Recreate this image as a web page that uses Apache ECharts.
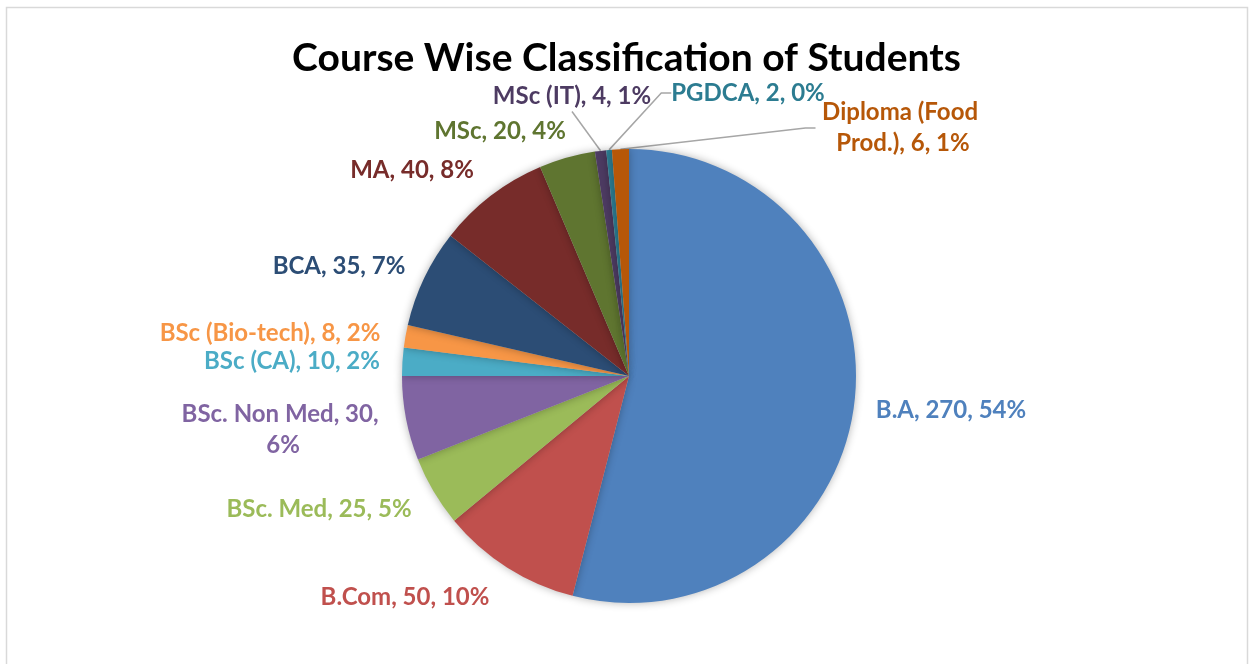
<!DOCTYPE html>
<html>
<head>
<meta charset="utf-8">
<script src="https://cdn.jsdelivr.net/npm/echarts@6/dist/echarts.min.js"></script>
<style>
  html, body { margin: 0; padding: 0; background: #fff; }
  #main { width: 1253px; height: 664px; }
</style>
</head>
<body>
<div id="main"></div>
<script>
// 数据
const categories = ['B.A', 'B.Com', 'BSc. Med', 'BSc. Non Med', 'BSc (CA)', 'BSc (Bio-tech)',
  'BCA', 'MA', 'MSc', 'MSc (IT)', 'PGDCA', 'Diploma (Food Prod.)']
const students = [270, 50, 25, 30, 10, 8, 35, 40, 20, 4, 2, 6]

// 颜色
const colors = ['#4F81BD', '#C0504D', '#9BBB59', '#8064A2', '#4BACC6', '#F79646',
  '#2C4D75', '#772C2A', '#5F7530', '#4D3B62', '#2C7C91', '#B65708']

// 标签位置 (中心点)
const labelPos = [
  [951, 410], [405, 597], [319, 509], [283, 430], [292, 361], [270, 333],
  [339, 266], [412, 170], [500, 131], [572, 96], [748, 93], [903, 128]
]
const withLine = [9, 10, 11]
const wrapWidth = { 3: 215, 11: 175 }

const myChart = echarts.init(document.getElementById('main'))

const option = {
  title: {
    text: 'Course Wise Classification of Students',
    left: 'center',
    top: 34,
    textStyle: { fontFamily: 'Lato', fontWeight: 'bold', fontSize: 39, color: '#000' }
  },
  graphic: [{
    type: 'rect',
    shape: { x: 6.5, y: 7.5, width: 1241, height: 700 },
    style: { fill: 'none', stroke: '#d9d9d9', lineWidth: 1.5 },
    silent: true
  }],
  series: [{
    type: 'pie',
    center: [629, 376],
    radius: 227,
    startAngle: 90,
    clockwise: true,
    color: colors,
    itemStyle: {
      shadowBlur: 8,
      shadowColor: 'rgba(0,0,0,0.3)'
    },
    label: {
      show: true,
      color: 'inherit',
      fontFamily: 'Lato',
      fontWeight: 'bold',
      fontSize: 24,
      lineHeight: 31,
      align: 'center',
      formatter: p => p.name + ', ' + p.value + ', ' + Math.round(p.percent) + '%'
    },
    labelLine: {
      lineStyle: { color: '#a6a6a6', width: 1.5 }
    },
    labelLayout: params => {
      const p = labelPos[params.dataIndex]
      return { x: p[0], y: p[1], align: 'center', verticalAlign: 'middle' }
    },
    data: categories.map((name, i) => ({
      name: name,
      value: students[i],
      labelLine: i === 9
        ? { show: true, length: 38, length2: 0 }
        : { show: withLine.indexOf(i) >= 0, length: 12, length2: 10 },
      label: wrapWidth[i] ? { width: wrapWidth[i], overflow: 'break' } : {}
    }))
  }]
}

myChart.setOption(option)
window.onresize = () => myChart.resize()
</script>
</body>
</html>
